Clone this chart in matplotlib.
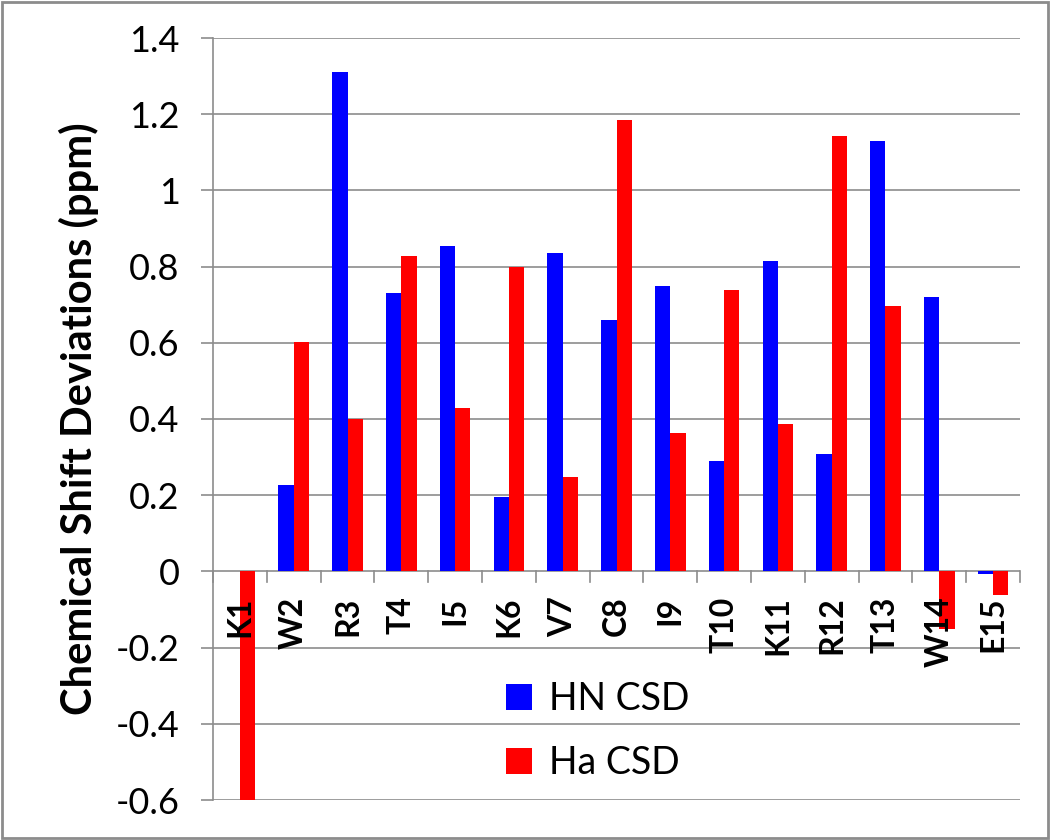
import numpy as np
import matplotlib
matplotlib.use("Agg")
import matplotlib.pyplot as plt
from matplotlib.patches import Rectangle

plt.rcParams['font.family'] = ['Lato', 'DejaVu Sans']

residues = ['K1', 'W2', 'R3', 'T4', 'I5', 'K6', 'V7', 'C8', 'I9', 'T10',
            'K11', 'R12', 'T13', 'W14', 'E15']
hn_csd = [0.0, 0.228, 1.31, 0.732, 0.853, 0.194, 0.835, 0.659, 0.748, 0.289,
          0.814, 0.307, 1.129, 0.719, -0.008]
ha_csd = [-0.61, 0.601, 0.399, 0.827, 0.430, 0.798, 0.249, 1.184, 0.362, 0.738,
          0.386, 1.142, 0.696, -0.152, -0.063]
yticks = [-0.6, -0.4, -0.2, 0, 0.2, 0.4, 0.6, 0.8, 1, 1.2, 1.4]
ytick_labels = ['-0.6', '-0.4', '-0.2', '0', '0.2', '0.4', '0.6', '0.8', '1', '1.2', '1.4']

fig = plt.figure(figsize=(10.5, 8.4), dpi=100)
ax = fig.add_axes([213/1050, 1 - 800/840, (1020 - 213)/1050, (800 - 38)/840])

x = np.arange(len(residues))
w = 0.286
grid_col = '#8c8c8c'

# gridlines + zero axis
for t in yticks:
    ax.axhline(t, color=grid_col, lw=1.2, zorder=0)
ax.bar(x - w/2, hn_csd, w, color='#0000ff', label='HN CSD', zorder=2)
ax.bar(x + w/2, ha_csd, w, color='#ff0000', label='Ha CSD', zorder=2)

ax.set_xlim(-0.5, len(residues) - 0.5)
ax.set_ylim(-0.6, 1.4)
ax.set_yticks(yticks)
ax.set_yticklabels(ytick_labels, fontsize=26)
ax.tick_params(axis='y', length=9, color=grid_col, width=1.2, pad=15)

# category ticks going down from the zero line
for b in np.arange(-0.5, len(residues), 1.0):
    ax.plot([b, b], [0, -0.028], color=grid_col, lw=1.2, zorder=1, clip_on=False)
ax.set_xticks([])
for xi, lab in zip(x, residues):
    ax.annotate(lab, (xi, 0), xytext=(0, -18), textcoords='offset points',
                rotation=90, ha='center', va='top',
                fontsize=23, fontweight='bold', zorder=3)

for s in ['top', 'right', 'bottom']:
    ax.spines[s].set_visible(False)
ax.spines['left'].set_color(grid_col)
ax.spines['left'].set_linewidth(1.2)

ax.set_ylabel('Chemical Shift Deviations (ppm)', fontsize=30, fontweight='bold', labelpad=12)

ax.legend(loc='center', bbox_to_anchor=(0.477, 0.09), frameon=False, fontsize=27,
          handlelength=0.7, handleheight=0.7, labelspacing=0.75, handletextpad=0.45)

fig.patches.append(Rectangle((0.002, 0.002), 0.996, 0.996, transform=fig.transFigure,
                             fill=False, edgecolor='#8c8c8c', lw=2))

fig.savefig('out.png', dpi=100)
